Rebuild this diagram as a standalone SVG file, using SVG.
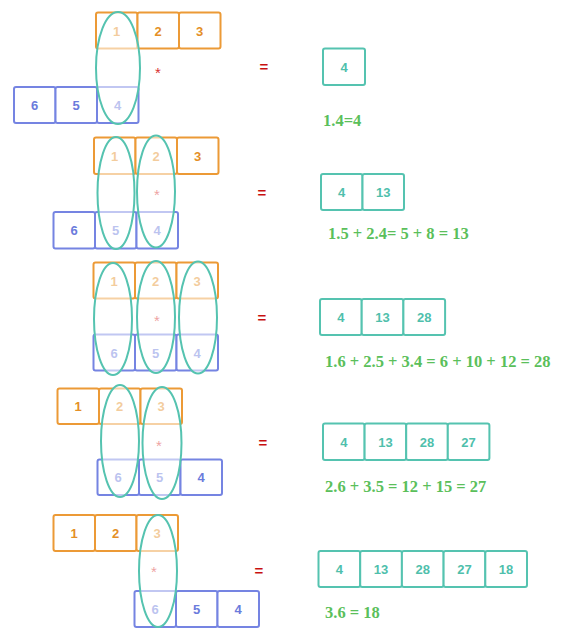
<svg xmlns="http://www.w3.org/2000/svg" width="564" height="638" viewBox="0 0 564 638">
<style>
.o{fill:#fff;stroke:#ec9a36;stroke-width:2}
.b{fill:#fff;stroke:#7584e2;stroke-width:2}
.r{fill:#fff;stroke:#55c3b0;stroke-width:2}
.ot{font-family:"Liberation Sans",Arial,sans-serif;font-weight:bold;font-size:13px;fill:#e48f27;text-anchor:middle}
.bt{font-family:"Liberation Sans",Arial,sans-serif;font-weight:bold;font-size:13px;fill:#6b7bdc;text-anchor:middle}
.rt{font-family:"Liberation Sans",Arial,sans-serif;font-weight:bold;font-size:13px;fill:#4fbfac;text-anchor:middle}
.el{fill:#fff;fill-opacity:0.55;stroke:#55c3b0;stroke-width:2}
.st{font-family:"Liberation Sans",Arial,sans-serif;font-size:15px;fill:#d83030;text-anchor:middle}
.eq{font-family:"Liberation Sans",Arial,sans-serif;font-weight:bold;font-size:15px;fill:#c81010;text-anchor:middle}
.g{font-family:"Liberation Serif","Times New Roman",serif;font-weight:bold;font-size:16.5px;fill:#5bbf5b}
</style>

<!-- Row 1 -->
<g id="row1">
<g id="r1-top">
<rect class="o" x="96" y="12.5" width="41.5" height="36" rx="2"/><text class="ot" x="116.7" y="35.5">1</text>
<rect class="o" x="137.5" y="12.5" width="41.5" height="36" rx="2"/><text class="ot" x="158.2" y="35.5">2</text>
<rect class="o" x="179" y="12.5" width="41.5" height="36" rx="2"/><text class="ot" x="199.7" y="35.5">3</text>
</g>
<g id="r1-bot">
<rect class="b" x="14" y="87" width="41.5" height="36" rx="2"/><text class="bt" x="34.7" y="110">6</text>
<rect class="b" x="55.5" y="87" width="41.5" height="36" rx="2"/><text class="bt" x="76.2" y="110">5</text>
<rect class="b" x="97" y="87" width="41.5" height="36" rx="2"/><text class="bt" x="117.7" y="110">4</text>
</g>
<text class="st" x="158" y="78">*</text>
<ellipse class="el" cx="118" cy="68" rx="22" ry="56"/>
<text class="eq" x="264" y="72">=</text>
<g id="r1-res">
<rect class="r" x="323" y="48.5" width="42" height="36.5" rx="2"/><text class="rt" x="344" y="71.5">4</text>
</g>
<text class="g" x="323" y="126">1.4=4</text>
</g>

<!-- Row 2 -->
<g id="row2">
<g id="r2-top">
<rect class="o" x="94" y="137.5" width="41.5" height="36.5" rx="2"/><text class="ot" x="114.7" y="160.5">1</text>
<rect class="o" x="135.5" y="137.5" width="41.5" height="36.5" rx="2"/><text class="ot" x="156.2" y="160.5">2</text>
<rect class="o" x="177" y="137.5" width="41.5" height="36.5" rx="2"/><text class="ot" x="197.7" y="160.5">3</text>
</g>
<g id="r2-bot">
<rect class="b" x="53.5" y="212" width="41.5" height="36.5" rx="2"/><text class="bt" x="74.2" y="235">6</text>
<rect class="b" x="95" y="212" width="41.5" height="36.5" rx="2"/><text class="bt" x="115.7" y="235">5</text>
<rect class="b" x="136.5" y="212" width="41.5" height="36.5" rx="2"/><text class="bt" x="157.2" y="235">4</text>
</g>
<text class="st" x="157" y="200">*</text>
<ellipse class="el" cx="116" cy="193" rx="18.5" ry="56"/>
<ellipse class="el" cx="156" cy="191.5" rx="19" ry="56"/>
<text class="eq" x="262" y="198">=</text>
<g id="r2-res">
<rect class="r" x="321" y="174" width="41.5" height="36" rx="2"/><text class="rt" x="341.7" y="196.5">4</text>
<rect class="r" x="362.5" y="174" width="41.5" height="36" rx="2"/><text class="rt" x="383.2" y="196.5">13</text>
</g>
<text class="g" x="328" y="239">1.5 + 2.4= 5 + 8 = 13</text>
</g>

<!-- Row 3 -->
<g id="row3">
<g id="r3-top">
<rect class="o" x="93.5" y="262.5" width="41.5" height="36" rx="2"/><text class="ot" x="114.2" y="285.5">1</text>
<rect class="o" x="135" y="262.5" width="41.5" height="36" rx="2"/><text class="ot" x="155.7" y="285.5">2</text>
<rect class="o" x="176.5" y="262.5" width="41.5" height="36" rx="2"/><text class="ot" x="197.2" y="285.5">3</text>
</g>
<g id="r3-bot">
<rect class="b" x="93.5" y="334.5" width="41.5" height="36" rx="2"/><text class="bt" x="114.2" y="357.5">6</text>
<rect class="b" x="135" y="334.5" width="41.5" height="36" rx="2"/><text class="bt" x="155.7" y="357.5">5</text>
<rect class="b" x="176.5" y="334.5" width="41.5" height="36" rx="2"/><text class="bt" x="197.2" y="357.5">4</text>
</g>
<text class="st" x="157" y="326">*</text>
<ellipse class="el" cx="113" cy="319" rx="19" ry="56"/>
<ellipse class="el" cx="156" cy="317" rx="19" ry="56"/>
<ellipse class="el" cx="198" cy="317.5" rx="19" ry="56"/>
<text class="eq" x="262" y="323">=</text>
<g id="r3-res">
<rect class="r" x="320" y="299" width="41.7" height="36" rx="2"/><text class="rt" x="340.8" y="321.5">4</text>
<rect class="r" x="361.7" y="299" width="41.7" height="36" rx="2"/><text class="rt" x="382.5" y="321.5">13</text>
<rect class="r" x="403.4" y="299" width="41.7" height="36" rx="2"/><text class="rt" x="424.2" y="321.5">28</text>
</g>
<text class="g" x="325" y="367">1.6 + 2.5 + 3.4 = 6 + 10 + 12 = 28</text>
</g>

<!-- Row 4 -->
<g id="row4">
<g id="r4-top">
<rect class="o" x="57.5" y="388.5" width="41.5" height="35.5" rx="2"/><text class="ot" x="78.2" y="411">1</text>
<rect class="o" x="99" y="388.5" width="41.5" height="35.5" rx="2"/><text class="ot" x="119.7" y="411">2</text>
<rect class="o" x="140.5" y="388.5" width="41.5" height="35.5" rx="2"/><text class="ot" x="161.2" y="411">3</text>
</g>
<g id="r4-bot">
<rect class="b" x="97.5" y="459.5" width="41.5" height="35.5" rx="2"/><text class="bt" x="118.2" y="482">6</text>
<rect class="b" x="139" y="459.5" width="41.5" height="35.5" rx="2"/><text class="bt" x="159.7" y="482">5</text>
<rect class="b" x="180.5" y="459.5" width="41.5" height="35.5" rx="2"/><text class="bt" x="201.2" y="482">4</text>
</g>
<text class="st" x="159" y="451">*</text>
<ellipse class="el" cx="120" cy="441" rx="19" ry="56"/>
<ellipse class="el" cx="162" cy="443" rx="19.5" ry="56"/>
<text class="eq" x="263" y="448">=</text>
<g id="r4-res">
<rect class="r" x="323" y="423.5" width="41.6" height="36.5" rx="2"/><text class="rt" x="343.8" y="446.5">4</text>
<rect class="r" x="364.6" y="423.5" width="41.6" height="36.5" rx="2"/><text class="rt" x="385.4" y="446.5">13</text>
<rect class="r" x="406.2" y="423.5" width="41.6" height="36.5" rx="2"/><text class="rt" x="427" y="446.5">28</text>
<rect class="r" x="447.8" y="423.5" width="41.6" height="36.5" rx="2"/><text class="rt" x="468.6" y="446.5">27</text>
</g>
<text class="g" x="325" y="492">2.6 + 3.5 = 12 + 15 = 27</text>
</g>

<!-- Row 5 -->
<g id="row5">
<g id="r5-top">
<rect class="o" x="53.5" y="515" width="41.5" height="36" rx="2"/><text class="ot" x="74.2" y="538">1</text>
<rect class="o" x="95" y="515" width="41.5" height="36" rx="2"/><text class="ot" x="115.7" y="538">2</text>
<rect class="o" x="136.5" y="515" width="41.5" height="36" rx="2"/><text class="ot" x="157.2" y="538">3</text>
</g>
<g id="r5-bot">
<rect class="b" x="134.5" y="591" width="41.5" height="36" rx="2"/><text class="bt" x="155.2" y="614">6</text>
<rect class="b" x="176" y="591" width="41.5" height="36" rx="2"/><text class="bt" x="196.7" y="614">5</text>
<rect class="b" x="217.5" y="591" width="41.5" height="36" rx="2"/><text class="bt" x="238.2" y="614">4</text>
</g>
<text class="st" x="154" y="577">*</text>
<ellipse class="el" cx="158" cy="571" rx="19" ry="56"/>
<text class="eq" x="259" y="576">=</text>
<g id="r5-res">
<rect class="r" x="318.5" y="551" width="41.7" height="36" rx="2"/><text class="rt" x="339.3" y="573.5">4</text>
<rect class="r" x="360.2" y="551" width="41.7" height="36" rx="2"/><text class="rt" x="381" y="573.5">13</text>
<rect class="r" x="401.9" y="551" width="41.7" height="36" rx="2"/><text class="rt" x="422.7" y="573.5">28</text>
<rect class="r" x="443.6" y="551" width="41.7" height="36" rx="2"/><text class="rt" x="464.4" y="573.5">27</text>
<rect class="r" x="485.3" y="551" width="41.7" height="36" rx="2"/><text class="rt" x="506.1" y="573.5">18</text>
</g>
<text class="g" x="325" y="618">3.6 = 18</text>
</g>
</svg>
